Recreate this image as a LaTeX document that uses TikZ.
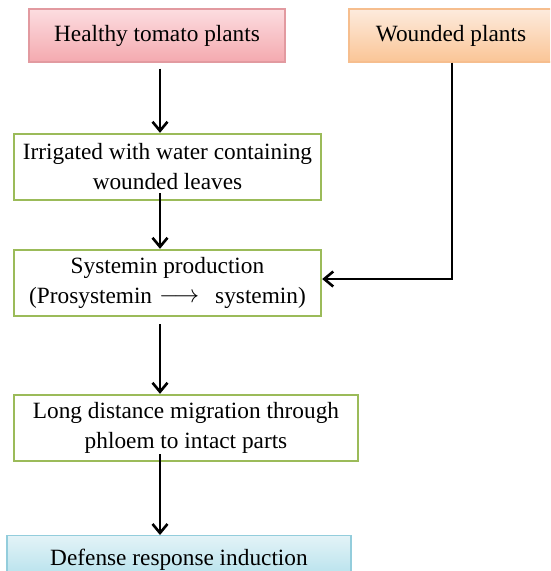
\documentclass[tikz,border=0pt]{standalone}
\usepackage{fontspec}
\setmainfont{Liberation Serif}
\usetikzlibrary{arrows.meta}
\definecolor{pinkTop}{HTML}{FCDDE0}
\definecolor{pinkBot}{HTML}{F4A9AF}
\definecolor{pinkLine}{HTML}{E29AA0}
\definecolor{orTop}{HTML}{FDEBDD}
\definecolor{orBot}{HTML}{FAC596}
\definecolor{orLine}{HTML}{F6BE8E}
\definecolor{blTop}{HTML}{E3F3F7}
\definecolor{blBot}{HTML}{ADDEEA}
\definecolor{blLine}{HTML}{93CDDC}
\definecolor{grLine}{HTML}{9BBB59}
\tikzset{
  box/.style={rectangle, align=center, inner sep=0pt,
    font=\fontsize{23.3}{30}\selectfont},
  pinkbox/.style={box, draw=pinkLine, line width=1.3pt, top color=pinkTop, bottom color=pinkBot},
  orangebox/.style={box, draw=orLine, line width=1.3pt, top color=orTop, bottom color=orBot},
  bluebox/.style={box, draw=blLine, line width=1.3pt, top color=blTop, bottom color=blBot},
  greenbox/.style={box, draw=grLine, line width=2.4pt, fill=white},
  arr/.style={draw=black, line width=2.6pt, -{Straight Barb[length=9pt, width=15pt, line width=2.6pt]}},
}
\begin{document}
\begin{tikzpicture}[x=1pt, y=1pt]
\useasboundingbox (0,0) rectangle (550,-571);
\clip (0,0) rectangle (550,-571);
\fill[white] (0,0) rectangle (550,-571);

\node[pinkbox, minimum width=256pt, minimum height=53pt] (h) at (157,-35.5) {Healthy tomato plants};
\node[orangebox, minimum width=204pt, minimum height=53pt] (w) at (451,-35.5) {Wounded plants};
\node[greenbox, minimum width=307pt, minimum height=66pt] (irr) at (167.5,-167) {Irrigated with water containing\\wounded leaves};
\node[greenbox, minimum width=307pt, minimum height=66pt] (sys) at (167.5,-283) {Systemin production\\(Prosystemin\hspace{7pt}\raisebox{1pt}{$\longrightarrow$}\hspace{16pt}systemin)};
\node[greenbox, minimum width=344pt, minimum height=66pt] (ldm) at (186,-428) {Long distance migration through\\phloem to intact parts};
\node[bluebox, minimum width=344pt, minimum height=50pt, anchor=north] (def) at (179,-535) {\raisebox{7pt}{Defense response induction}};

\coordinate (ax) at (160,0);
\draw[arr] (h.south -| ax) ++(0,-6) -- (irr.north -| ax);
\draw[arr] (irr.south -| ax) ++(0,8) -- (sys.north -| ax);
\draw[arr] (sys.south -| ax) ++(0,-7) -- (ldm.north -| ax);
\draw[arr] (ldm.south -| ax) ++(0,8) -- (def.north -| ax);
\draw[arr] ([xshift=1pt]w.south) |- ([yshift=4pt]sys.east);
\end{tikzpicture}
\end{document}
